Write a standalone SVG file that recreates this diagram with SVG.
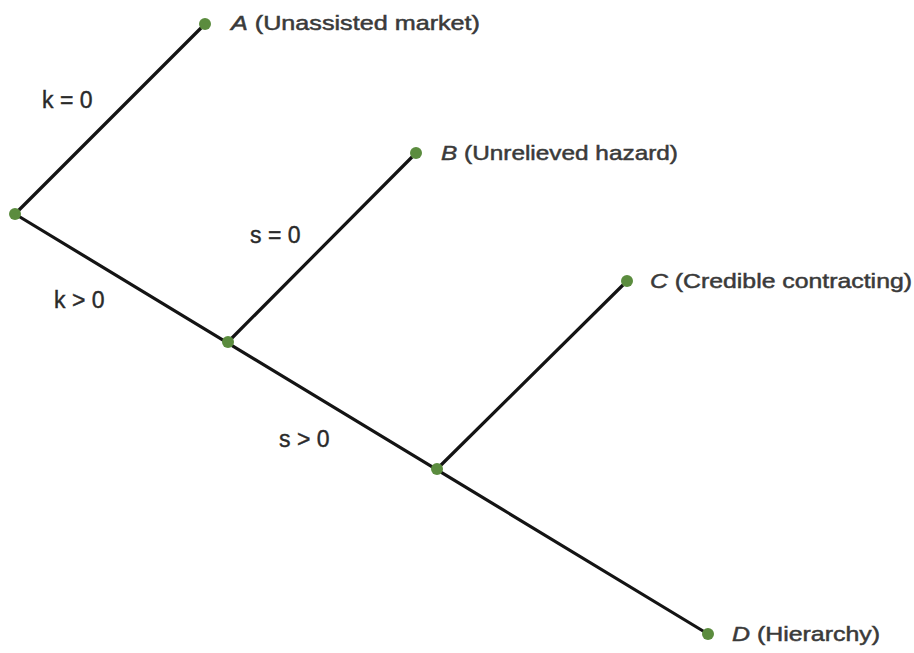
<svg xmlns="http://www.w3.org/2000/svg" width="914" height="653" viewBox="0 0 914 653">
<style>
.ln{stroke:#141414;stroke-width:3.2;stroke-linecap:round;fill:none}
.dot{fill:#5b8c3e}
.lbl{font-family:"Liberation Sans",Arial,sans-serif;font-size:21px;fill:#3a3a3a;stroke:#3a3a3a;stroke-width:0.5}
.it{font-style:italic}
.eq{font-family:"Liberation Sans",Arial,sans-serif;font-size:23px;fill:#2a2a2a;stroke:#2a2a2a;stroke-width:0.4}
</style>
<rect width="914" height="653" fill="#ffffff"/>
<g id="connectors">
<line class="ln" x1="15" y1="214" x2="708" y2="634"/>
<line class="ln" x1="15" y1="214" x2="205" y2="24"/>
<line class="ln" x1="228" y1="342" x2="416" y2="153"/>
<line class="ln" x1="437" y1="469" x2="627" y2="281"/>
<text class="eq" x="42" y="108">k = 0</text>
<text class="eq" x="250" y="243">s = 0</text>
<text class="eq" x="54" y="308">k &gt; 0</text>
<text class="eq" x="279" y="447">s &gt; 0</text>
</g>
<g id="root"><circle class="dot" cx="15" cy="214" r="6"/></g>
<g id="j1"><circle class="dot" cx="228" cy="342" r="6"/></g>
<g id="j2"><circle class="dot" cx="437" cy="469" r="6"/></g>
<g id="A"><circle class="dot" cx="205" cy="24" r="6"/><text class="lbl" x="231" y="30" textLength="249" lengthAdjust="spacingAndGlyphs"><tspan class="it">A</tspan> (Unassisted market)</text></g>
<g id="B"><circle class="dot" cx="416" cy="153" r="6"/><text class="lbl" x="441" y="160" textLength="237" lengthAdjust="spacingAndGlyphs"><tspan class="it">B</tspan> (Unrelieved hazard)</text></g>
<g id="C"><circle class="dot" cx="627" cy="281" r="6"/><text class="lbl" x="650" y="288" textLength="262" lengthAdjust="spacingAndGlyphs"><tspan class="it">C</tspan> (Credible contracting)</text></g>
<g id="D"><circle class="dot" cx="708" cy="634" r="6"/><text class="lbl" x="732" y="641" textLength="148" lengthAdjust="spacingAndGlyphs"><tspan class="it">D</tspan> (Hierarchy)</text></g>
</svg>
